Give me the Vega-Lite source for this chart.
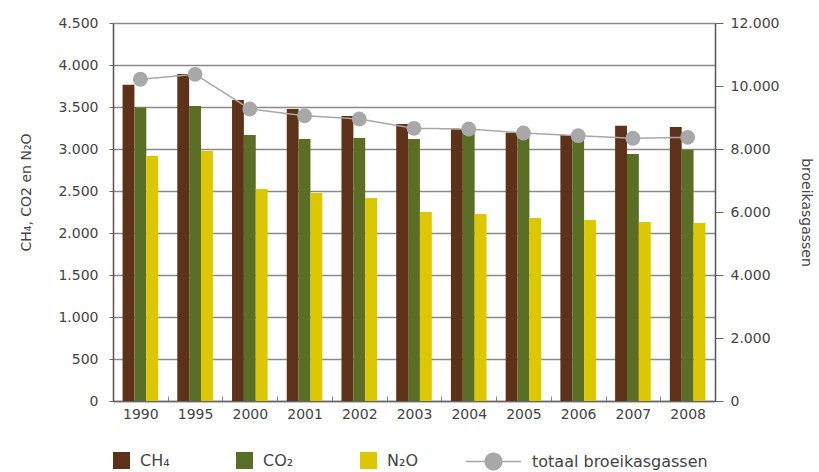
{
  "$schema": "https://vega.github.io/schema/vega-lite/v6.json",
  "width": 602,
  "height": 378,
  "autosize": "none",
  "padding": {"left": 113, "top": 23, "right": 104, "bottom": 71},
  "background": "white",
  "config": {
    "font": "DejaVu Sans",
    "view": {"stroke": null},
    "axis": {"labelFontSize": 14, "labelColor": "#444", "titleFontSize": 14, "titleFontWeight": "normal", "titleColor": "#444", "labelFont": "DejaVu Sans", "titleFont": "DejaVu Sans"},
    "legend": {"labelFontSize": 16, "labelColor": "#444", "labelFont": "DejaVu Sans", "padding": 0, "labelLimit": 400}
  },
  "datasets": {
    "gassen": [
      {"jaar": "1990", "serie": "CH₄", "waarde": 3765},
      {"jaar": "1990", "serie": "CO₂", "waarde": 3495},
      {"jaar": "1990", "serie": "N₂O", "waarde": 2918},
      {"jaar": "1995", "serie": "CH₄", "waarde": 3893},
      {"jaar": "1995", "serie": "CO₂", "waarde": 3512},
      {"jaar": "1995", "serie": "N₂O", "waarde": 2976},
      {"jaar": "2000", "serie": "CH₄", "waarde": 3583},
      {"jaar": "2000", "serie": "CO₂", "waarde": 3167},
      {"jaar": "2000", "serie": "N₂O", "waarde": 2524},
      {"jaar": "2001", "serie": "CH₄", "waarde": 3476},
      {"jaar": "2001", "serie": "CO₂", "waarde": 3119},
      {"jaar": "2001", "serie": "N₂O", "waarde": 2476},
      {"jaar": "2002", "serie": "CH₄", "waarde": 3393},
      {"jaar": "2002", "serie": "CO₂", "waarde": 3131},
      {"jaar": "2002", "serie": "N₂O", "waarde": 2417},
      {"jaar": "2003", "serie": "CH₄", "waarde": 3298},
      {"jaar": "2003", "serie": "CO₂", "waarde": 3119},
      {"jaar": "2003", "serie": "N₂O", "waarde": 2250},
      {"jaar": "2004", "serie": "CH₄", "waarde": 3234},
      {"jaar": "2004", "serie": "CO₂", "waarde": 3210},
      {"jaar": "2004", "serie": "N₂O", "waarde": 2226},
      {"jaar": "2005", "serie": "CH₄", "waarde": 3194},
      {"jaar": "2005", "serie": "CO₂", "waarde": 3150},
      {"jaar": "2005", "serie": "N₂O", "waarde": 2179},
      {"jaar": "2006", "serie": "CH₄", "waarde": 3167},
      {"jaar": "2006", "serie": "CO₂", "waarde": 3107},
      {"jaar": "2006", "serie": "N₂O", "waarde": 2155},
      {"jaar": "2007", "serie": "CH₄", "waarde": 3278},
      {"jaar": "2007", "serie": "CO₂", "waarde": 2940},
      {"jaar": "2007", "serie": "N₂O", "waarde": 2131},
      {"jaar": "2008", "serie": "CH₄", "waarde": 3262},
      {"jaar": "2008", "serie": "CO₂", "waarde": 2992},
      {"jaar": "2008", "serie": "N₂O", "waarde": 2119}
    ],
    "totaal": [
      {"jaar": "1990", "serie2": "totaal broeikasgassen", "totaal": 10213},
      {"jaar": "1995", "serie2": "totaal broeikasgassen", "totaal": 10371},
      {"jaar": "2000", "serie2": "totaal broeikasgassen", "totaal": 9270},
      {"jaar": "2001", "serie2": "totaal broeikasgassen", "totaal": 9057},
      {"jaar": "2002", "serie2": "totaal broeikasgassen", "totaal": 8952},
      {"jaar": "2003", "serie2": "totaal broeikasgassen", "totaal": 8657},
      {"jaar": "2004", "serie2": "totaal broeikasgassen", "totaal": 8635},
      {"jaar": "2005", "serie2": "totaal broeikasgassen", "totaal": 8508},
      {"jaar": "2006", "serie2": "totaal broeikasgassen", "totaal": 8422},
      {"jaar": "2007", "serie2": "totaal broeikasgassen", "totaal": 8340},
      {"jaar": "2008", "serie2": "totaal broeikasgassen", "totaal": 8371}
    ]
  },
  "layer": [
    {
      "data": {"name": "gassen"},
      "mark": {"type": "bar"},
      "encoding": {
        "x": {
          "field": "jaar", "type": "nominal",
          "scale": {"paddingInner": 0.35, "paddingOuter": 0.175},
          "axis": {"title": null, "labelAngle": 0, "domainColor": "#666", "domainWidth": 1.5, "tickColor": "#888", "tickSize": -5, "tickWidth": 1, "bandPosition": 0, "tickOffset": -9.58, "labelOffset": 9.58, "labelPadding": 11}
        },
        "xOffset": {"field": "serie", "type": "nominal", "sort": ["CH₄", "CO₂", "N₂O"]},
        "y": {
          "field": "waarde", "type": "quantitative",
          "scale": {"domain": [0, 4500], "nice": false},
          "axis": {"orient": "left", "title": "CH₄, CO2 en N₂O", "values": [0, 500, 1000, 1500, 2000, 2500, 3000, 3500, 4000, 4500], "labelExpr": "replace(format(datum.value, ',d'), ',', '.')", "grid": true, "gridColor": "#8a8a8a", "gridWidth": 1.5, "domainColor": "#555", "domainWidth": 1.5, "tickColor": "#666", "tickSize": 4, "labelPadding": 11, "titlePadding": 24, "titleY": 169}
        },
        "color": {
          "field": "serie", "type": "nominal", "sort": ["CH₄", "CO₂", "N₂O"],
          "scale": {"domain": ["CH₄", "CO₂", "N₂O"], "range": ["#5E3219", "#5A6E25", "#DDC800"]},
          "legend": {"title": null, "orient": "none", "direction": "horizontal", "legendX": 0, "legendY": 429, "symbolType": "square", "symbolSize": 289, "symbolStrokeWidth": 0, "labelOffset": 10, "columnPadding": 66}
        }
      }
    },
    {
      "data": {"name": "totaal"},
      "encoding": {
        "x": {"field": "jaar", "type": "nominal"},
        "y": {
          "field": "totaal", "type": "quantitative",
          "scale": {"domain": [0, 12000], "nice": false},
          "axis": {"orient": "right", "title": "broeikasgassen", "values": [0, 2000, 4000, 6000, 8000, 10000, 12000], "labelExpr": "replace(format(datum.value, ',d'), ',', '.')", "grid": false, "domainColor": "#555", "domainWidth": 1.5, "tickColor": "#666", "tickSize": 8, "labelPadding": 7, "titlePadding": 20}
        }
      },
      "layer": [
        {
          "mark": {"type": "line", "color": "#A8A8A8", "strokeWidth": 1.5},
          "encoding": {
            "strokeDash": {
              "field": "serie2", "type": "nominal",
              "scale": {"range": [[1, 0]]},
              "legend": {"title": null, "orient": "none", "legendX": 352, "legendY": 410, "symbolType": "M-1,0L1,0M0.3,0A0.3,0.3 0 1,1 -0.3,0A0.3,0.3 0 1,1 0.3,0Z", "symbolSize": 3025, "symbolFillColor": "#A8A8A8", "symbolStrokeColor": "#A8A8A8", "symbolStrokeWidth": 1.5, "symbolOpacity": 1, "labelOffset": 10, "labelLimit": 400}
            }
          }
        },
        {
          "mark": {"type": "point", "filled": true, "size": 220, "color": "#A8A8A8", "opacity": 1}
        }
      ]
    }
  ],
  "resolve": {"scale": {"y": "independent"}}
}
